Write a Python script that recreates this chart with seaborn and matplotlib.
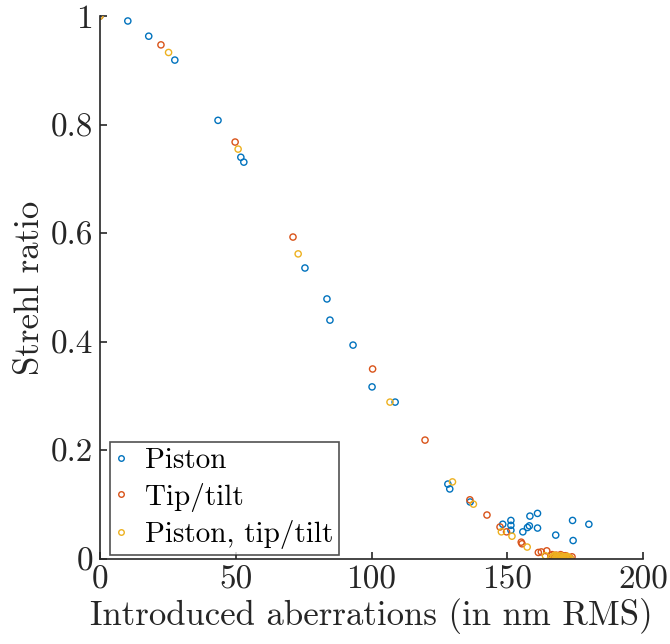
import numpy as np
import pandas as pd
import matplotlib
matplotlib.use("Agg")
import matplotlib.pyplot as plt
import seaborn as sns

# Values (x: nm RMS, y: Strehl ratio)
piston_x = [0, 10.3, 18.0, 27.6, 43.5, 51.9, 53.0, 75.5, 83.6, 84.7, 93.2, 100.2, 108.7,
            128.1, 128.8, 136.3, 148.3, 151.3, 151.3, 151.3, 155.7, 157.4, 158.1, 158.3,
            161.1, 161.1, 167.8, 174.0, 174.2, 180.0]
piston_y = [1.0, 0.991, 0.963, 0.919, 0.808, 0.740, 0.731, 0.536, 0.479, 0.440, 0.394, 0.317, 0.289,
            0.138, 0.129, 0.105, 0.064, 0.071, 0.062, 0.053, 0.050, 0.058, 0.061, 0.079,
            0.084, 0.057, 0.044, 0.071, 0.034, 0.064]

tiptilt_x = [0, 22.5, 49.8, 71.1, 100.4, 119.7, 136.2, 142.5, 147.3, 149.7, 155.1, 155.4,
             161.4, 162.5, 164.5, 166.0, 166.5, 167.0, 167.3, 168.0, 168.3, 168.6, 169.2,
             169.6, 170.0, 170.4, 170.8, 171.5, 171.9, 172.3, 173.1, 173.8]
tiptilt_y = [1.0, 0.947, 0.768, 0.593, 0.350, 0.219, 0.109, 0.081, 0.059, 0.050, 0.031, 0.028,
             0.012, 0.013, 0.015, 0.006, 0.008, 0.004, 0.002, 0.007, 0.005, 0.003, 0.005,
             0.008, 0.002, 0.006, 0.004, 0.006, 0.002, 0.003, 0.002, 0.004]

both_x = [0, 25.3, 50.9, 73.0, 106.8, 129.8, 137.5, 147.8, 151.7, 157.3, 164.0, 166.2,
          167.0, 167.5, 167.9, 168.3, 168.7, 169.0, 169.4, 169.8, 170.1, 170.5, 170.9,
          171.3, 171.6, 172.0, 172.4, 173.2]
both_y = [1.0, 0.933, 0.755, 0.562, 0.289, 0.142, 0.101, 0.050, 0.042, 0.022, 0.006, 0.003,
          0.005, 0.007, 0.002, 0.006, 0.004, 0.002, 0.003, 0.006, 0.001, 0.004, 0.004,
          0.002, 0.002, 0.005, 0.003, 0.001]

labels = ["Piston", "Tip/tilt", "Piston, tip/tilt"]
colors = ["#0072BD", "#D95319", "#EDB120"]

x_ticks = [0, 50, 100, 150, 200]
y_ticks = [0, 0.2, 0.4, 0.6, 0.8, 1]
y_tick_labels = ["0", "0.2", "0.4", "0.6", "0.8", "1"]

df = pd.concat([
    pd.DataFrame({"x": piston_x, "y": piston_y, "series": labels[0]}),
    pd.DataFrame({"x": tiptilt_x, "y": tiptilt_y, "series": labels[1]}),
    pd.DataFrame({"x": both_x, "y": both_y, "series": labels[2]}),
])

sns.set_style("ticks")
plt.rcParams["font.family"] = ["cmr10", "DejaVu Serif"]
plt.rcParams["mathtext.fontset"] = "cm"
plt.rcParams["axes.formatter.use_mathtext"] = True
text_col = "#262626"

fig = plt.figure(figsize=(6.7, 6.44), dpi=100)
ax = fig.add_axes([0.149, 0.132, 0.811, 0.843])

handles = []
for lab, col in zip(labels, colors):
    sub = df[df["series"] == lab]
    sns.scatterplot(data=sub, x="x", y="y", ax=ax, marker="o", s=20,
                    facecolor="none", edgecolor=col, linewidth=1.0, legend=False)
    handles.append(plt.Line2D([], [], ls="none", marker="o", markersize=4,
                              markerfacecolor="none", markeredgecolor=col,
                              markeredgewidth=1.0, label=lab))

ax.set_xlim(0, 200)
ax.set_ylim(0, 1)
ax.set_xticks(x_ticks)
ax.set_xticklabels([str(t) for t in x_ticks])
ax.set_yticks(y_ticks)
ax.set_yticklabels(y_tick_labels)
ax.tick_params(direction="in", length=5, width=1.2, labelsize=24, colors=text_col, pad=5)
for side in ["top", "right"]:
    ax.spines[side].set_visible(False)
for side in ["left", "bottom"]:
    ax.spines[side].set_color(text_col)
    ax.spines[side].set_linewidth(1.2)

ax.set_xlabel("Introduced aberrations (in nm RMS)", fontsize=25, color=text_col, labelpad=2)
ax.set_ylabel("Strehl ratio", fontsize=25, color=text_col, labelpad=3)

leg = ax.legend(handles=handles, loc="lower left", bbox_to_anchor=(0.018, 0.007),
                borderaxespad=0, fontsize=21, frameon=True, fancybox=False,
                handlelength=0.4, handletextpad=0.6, labelspacing=0.3, borderpad=0.2)
leg.get_frame().set_edgecolor(text_col)
leg.get_frame().set_linewidth(1.2)
for t in leg.get_texts():
    t.set_color("black")

fig.savefig("out.png", dpi=100)
